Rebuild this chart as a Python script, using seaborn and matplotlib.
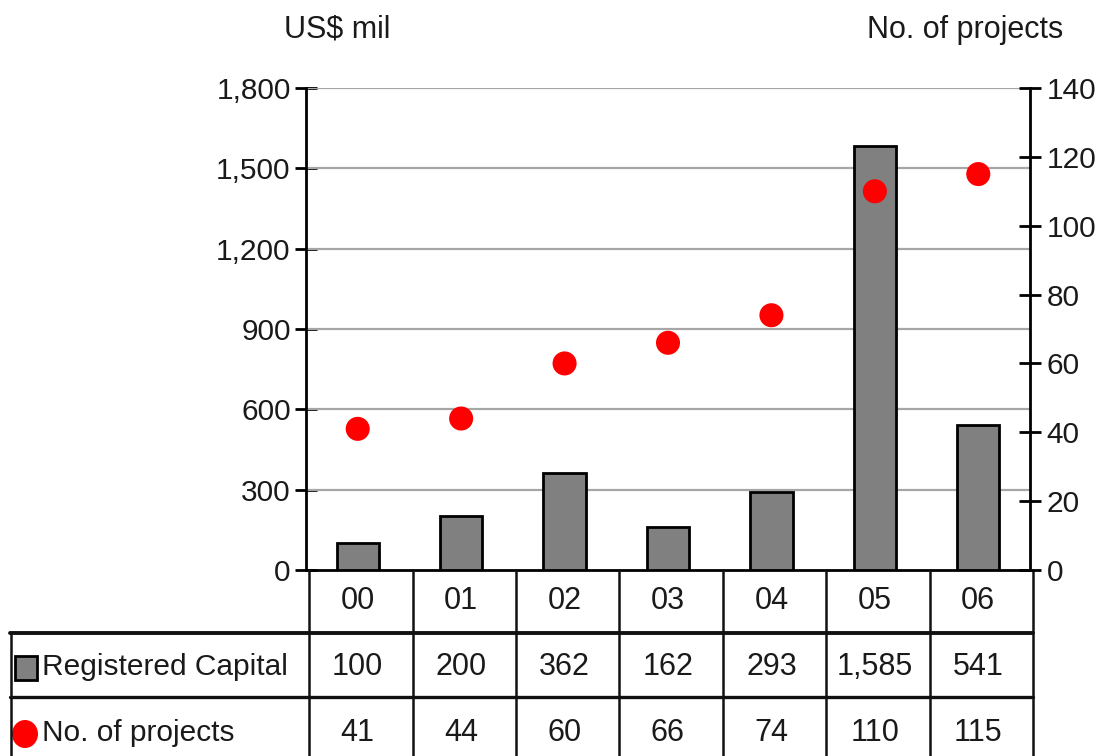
import matplotlib
matplotlib.use("Agg")
import matplotlib.pyplot as plt
import matplotlib.transforms as mtransforms
from matplotlib.patches import Rectangle, Ellipse
import seaborn as sns
import pandas as pd

# Data
years = ["00", "01", "02", "03", "04", "05", "06"]
capital = [100, 200, 362, 162, 293, 1585, 541]
projects = [41, 44, 60, 66, 74, 110, 115]
capital_labels = ["100", "200", "362", "162", "293", "1,585", "541"]
left_ticks = [0, 300, 600, 900, 1200, 1500, 1800]
left_tick_labels = ["0", "300", "600", "900", "1,200", "1,500", "1,800"]
right_ticks = [0, 20, 40, 60, 80, 100, 120, 140]

df = pd.DataFrame({"year": years, "capital": capital, "projects": projects})

sns.set_style("white")
plt.rcParams["font.family"] = ["Liberation Sans", "DejaVu Sans"]
FS_TICK = 21.5
FS = 22
FS_LABEL = 21.5
TXT = "#1a1a1a"
BAR_GREY = "#808080"
DOT_RED = "#ff0000"
GRID_GREY = "#a6a6a6"

W, H = 1103, 756
fig = plt.figure(figsize=(W / 100, H / 100), dpi=100)
L, R, T, B = 306, 1030, 88, 570
ax = fig.add_axes([L / W, 1 - B / H, (R - L) / W, (B - T) / H])

sns.barplot(data=df, x="year", y="capital", ax=ax, color=BAR_GREY,
            saturation=1, width=0.41, edgecolor="black", linewidth=2,
            zorder=3)
ax.set_xlim(-0.5, 6.5)
ax.set_ylim(0, 1800)
ax.set_yticks(left_ticks)
ax.set_yticklabels(left_tick_labels, fontsize=FS_TICK, color=TXT)
ax.set_xticks([])
ax.set_xlabel("")
ax.set_ylabel("")
for y in left_ticks[1:]:
    ax.axhline(y, color=GRID_GREY, lw=1.6, zorder=1)
ax.tick_params(axis="y", direction="inout", length=16, width=2,
               color="black", pad=3)
for s in ["top", "right"]:
    ax.spines[s].set_visible(False)
for s in ["left", "bottom"]:
    ax.spines[s].set_linewidth(2)
    ax.spines[s].set_color("black")

ax2 = ax.twinx()
sns.scatterplot(data=df, x="year", y="projects", ax=ax2, color=DOT_RED,
                s=300, edgecolor="none", zorder=4, legend=False)
ax2.set_ylim(0, 140)
ax2.set_yticks(right_ticks)
ax2.set_yticklabels([str(v) for v in right_ticks], fontsize=FS_TICK,
                    color=TXT)
ax2.set_ylabel("")
ax2.tick_params(axis="y", direction="inout", length=16, width=2,
                color="black", pad=4)
for s in ["top", "left", "bottom"]:
    ax2.spines[s].set_visible(False)
ax2.spines["right"].set_linewidth(2)
ax2.spines["right"].set_color("black")
ax2.set_xlim(-0.5, 6.5)

# Axis titles
fig.text(337 / W, 1 - 30 / H, "US$ mil", fontsize=FS, ha="center",
         va="center", color=TXT)
fig.text(965 / W, 1 - 30 / H, "No. of projects", fontsize=FS,
         ha="center", va="center", color=TXT)

# Data table below the plot
def ay(py):
    return (B - py) / (B - T)

def axx(px):
    return (px - L) / (R - L)

blend = mtransforms.blended_transform_factory(ax.transData, ax.transAxes)
line_kw = dict(color="#111111", clip_on=False, zorder=5)

row_header, row1, row_end = ay(633), ay(697), ay(760)
ax.plot([axx(10), 1.0035], [row_header, row_header], transform=ax.transAxes,
        lw=2.8, **line_kw)
ax.plot([axx(10), 1.0035], [row1, row1], transform=ax.transAxes,
        lw=2.4, **line_kw)
for xb in [i - 0.5 for i in range(len(years) + 1)]:
    ax.plot([xb + 0.03, xb + 0.03], [0, row_end], transform=blend,
            lw=1.8, **line_kw)
ax.plot([axx(11), axx(11)], [row_header, row_end], transform=ax.transAxes,
        lw=1.8, **line_kw)

for i, yr in enumerate(years):
    ax.text(i, ay(601), yr, transform=blend, ha="center", va="center",
            fontsize=FS, color=TXT)
    ax.text(i, ay(667), capital_labels[i], transform=blend, ha="center",
            va="center", fontsize=FS, color=TXT)
    ax.text(i, ay(733), str(projects[i]), transform=blend, ha="center",
            va="center", fontsize=FS, color=TXT)

# Row labels with legend keys
ax.add_patch(Rectangle((axx(15), ay(680)), axx(37) - axx(15),
                       ay(656) - ay(680), transform=ax.transAxes,
                       facecolor=BAR_GREY, edgecolor="black", lw=2,
                       clip_on=False))
ax.add_patch(Ellipse((axx(25), ay(734)), axx(38) - axx(12),
                     ay(720) - ay(748), transform=ax.transAxes,
                     facecolor=DOT_RED, edgecolor="none", clip_on=False))
ax.text(axx(42), ay(667), "Registered Capital", transform=ax.transAxes,
        ha="left", va="center", fontsize=FS_LABEL, color=TXT)
ax.text(axx(42), ay(733), "No. of projects", transform=ax.transAxes,
        ha="left", va="center", fontsize=FS_LABEL, color=TXT)

fig.savefig("out.png", dpi=100)
